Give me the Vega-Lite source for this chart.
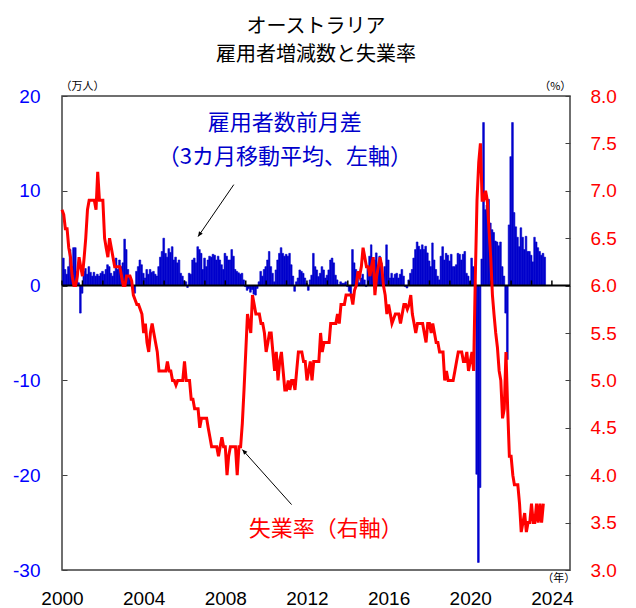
{
"$schema": "https://vega.github.io/schema/vega-lite/v6.json",
"width": 508,
"height": 474,
"autosize": {"type": "none"},
"padding": {"left": 62, "top": 96, "right": 66, "bottom": 38},
"title": {"text": ["オーストラリア", "雇用者増減数と失業率"], "fontSize": 20, "fontWeight": "normal", "font": "Noto Sans CJK JP", "color": "#000000", "lineHeight": 28, "offset": 16, "anchor": "middle"},
"config": {
  "view": {"stroke": "#404040", "strokeWidth": 1.5},
  "axis": {"labelFont": "Liberation Sans", "labelFontSize": 19, "grid": false, "domain": false, "title": null}
},
"datasets": {
"main": [
{"d":"2000-01","e":2.9,"u":6.8},{"d":"2000-02","e":1.7,"u":6.75},{"d":"2000-03","e":1.2,"u":6.6},{"d":"2000-04","e":2.0,"u":6.6},{"d":"2000-05","e":3.8,"u":6.4},{"d":"2000-06","e":2.0,"u":6.3},{"d":"2000-07","e":4.0,"u":6.1},{"d":"2000-08","e":4.0,"u":6.0},{"d":"2000-09","e":1.5,"u":6.0},{"d":"2000-10","e":0.3,"u":6.1},{"d":"2000-11","e":-2.9,"u":6.3},{"d":"2000-12","e":-0.8,"u":6.2},
{"d":"2001-01","e":1.5,"u":6.1},{"d":"2001-02","e":1.8,"u":6.3},{"d":"2001-03","e":1.2,"u":6.5},{"d":"2001-04","e":2.0,"u":6.8},{"d":"2001-05","e":1.4,"u":6.9},{"d":"2001-06","e":1.0,"u":6.9},{"d":"2001-07","e":1.4,"u":6.9},{"d":"2001-08","e":1.0,"u":6.9},{"d":"2001-09","e":1.2,"u":6.8},{"d":"2001-10","e":1.0,"u":7.2},{"d":"2001-11","e":1.3,"u":6.9},{"d":"2001-12","e":1.5,"u":6.9},
{"d":"2002-01","e":1.2,"u":6.9},{"d":"2002-02","e":1.7,"u":6.5},{"d":"2002-03","e":2.2,"u":6.4},{"d":"2002-04","e":2.0,"u":6.3},{"d":"2002-05","e":1.3,"u":6.5},{"d":"2002-06","e":1.0,"u":6.4},{"d":"2002-07","e":1.5,"u":6.3},{"d":"2002-08","e":2.9,"u":6.2},{"d":"2002-09","e":1.7,"u":6.2},{"d":"2002-10","e":2.7,"u":6.2},{"d":"2002-11","e":2.0,"u":6.2},{"d":"2002-12","e":2.4,"u":6.1},
{"d":"2003-01","e":4.9,"u":6.0},{"d":"2003-02","e":3.8,"u":6.0},{"d":"2003-03","e":1.7,"u":6.1},{"d":"2003-04","e":0.8,"u":6.1},{"d":"2003-05","e":0.5,"u":6.1},{"d":"2003-06","e":-0.3,"u":6.05},{"d":"2003-07","e":-0.8,"u":5.9},{"d":"2003-08","e":1.5,"u":5.85},{"d":"2003-09","e":2.0,"u":5.8},{"d":"2003-10","e":2.7,"u":5.8},{"d":"2003-11","e":2.2,"u":5.75},{"d":"2003-12","e":1.3,"u":5.7},
{"d":"2004-01","e":0.8,"u":5.5},{"d":"2004-02","e":1.7,"u":5.6},{"d":"2004-03","e":1.2,"u":5.4},{"d":"2004-04","e":1.7,"u":5.3},{"d":"2004-05","e":1.4,"u":5.5},{"d":"2004-06","e":1.5,"u":5.6},{"d":"2004-07","e":1.2,"u":5.5},{"d":"2004-08","e":1.0,"u":5.4},{"d":"2004-09","e":2.0,"u":5.3},{"d":"2004-10","e":3.0,"u":5.1},{"d":"2004-11","e":3.6,"u":5.1},{"d":"2004-12","e":5.0,"u":5.1},
{"d":"2005-01","e":3.4,"u":5.1},{"d":"2005-02","e":3.0,"u":5.1},{"d":"2005-03","e":3.9,"u":5.2},{"d":"2005-04","e":3.5,"u":5.1},{"d":"2005-05","e":4.1,"u":5.1},{"d":"2005-06","e":2.7,"u":5.0},{"d":"2005-07","e":3.0,"u":5.0},{"d":"2005-08","e":2.4,"u":4.95},{"d":"2005-09","e":2.7,"u":5.0},{"d":"2005-10","e":1.3,"u":5.0},{"d":"2005-11","e":1.0,"u":5.0},{"d":"2005-12","e":0.5,"u":5.0},
{"d":"2006-01","e":0.4,"u":5.2},{"d":"2006-02","e":-0.2,"u":5.0},{"d":"2006-03","e":1.3,"u":5.0},{"d":"2006-04","e":1.2,"u":5.0},{"d":"2006-05","e":2.7,"u":4.8},{"d":"2006-06","e":2.9,"u":4.8},{"d":"2006-07","e":2.4,"u":4.7},{"d":"2006-08","e":4.1,"u":4.7},{"d":"2006-09","e":3.8,"u":4.7},{"d":"2006-10","e":3.4,"u":4.5},{"d":"2006-11","e":1.7,"u":4.6},{"d":"2006-12","e":2.9,"u":4.6},
{"d":"2007-01","e":2.0,"u":4.6},{"d":"2007-02","e":2.7,"u":4.6},{"d":"2007-03","e":3.1,"u":4.5},{"d":"2007-04","e":3.0,"u":4.4},{"d":"2007-05","e":3.3,"u":4.3},{"d":"2007-06","e":3.2,"u":4.3},{"d":"2007-07","e":2.7,"u":4.3},{"d":"2007-08","e":3.1,"u":4.3},{"d":"2007-09","e":2.7,"u":4.2},{"d":"2007-10","e":2.2,"u":4.3},{"d":"2007-11","e":1.7,"u":4.4},{"d":"2007-12","e":3.4,"u":4.3},
{"d":"2008-01","e":3.1,"u":4.3},{"d":"2008-02","e":2.7,"u":4.0},{"d":"2008-03","e":2.7,"u":4.2},{"d":"2008-04","e":3.8,"u":4.3},{"d":"2008-05","e":3.1,"u":4.3},{"d":"2008-06","e":1.7,"u":4.3},{"d":"2008-07","e":1.5,"u":4.3},{"d":"2008-08","e":1.35,"u":4.0},{"d":"2008-09","e":1.2,"u":4.3},{"d":"2008-10","e":1.3,"u":4.3},{"d":"2008-11","e":0.6,"u":4.55},{"d":"2008-12","e":-0.1,"u":4.9},
{"d":"2009-01","e":-0.5,"u":5.3},{"d":"2009-02","e":-0.3,"u":5.7},{"d":"2009-03","e":-0.7,"u":5.6},{"d":"2009-04","e":-0.4,"u":5.5},{"d":"2009-05","e":-0.9,"u":5.9},{"d":"2009-06","e":-1.0,"u":5.8},{"d":"2009-07","e":-0.3,"u":5.7},{"d":"2009-08","e":0.4,"u":5.7},{"d":"2009-09","e":1.5,"u":5.7},{"d":"2009-10","e":1.0,"u":5.6},{"d":"2009-11","e":1.7,"u":5.6},{"d":"2009-12","e":2.0,"u":5.5},
{"d":"2010-01","e":2.7,"u":5.3},{"d":"2010-02","e":3.6,"u":5.4},{"d":"2010-03","e":2.0,"u":5.5},{"d":"2010-04","e":1.3,"u":5.5},{"d":"2010-05","e":0.4,"u":5.3},{"d":"2010-06","e":1.65,"u":5.1},{"d":"2010-07","e":2.7,"u":5.3},{"d":"2010-08","e":3.4,"u":5.0},{"d":"2010-09","e":4.0,"u":5.2},{"d":"2010-10","e":3.4,"u":5.3},{"d":"2010-11","e":3.1,"u":5.1},{"d":"2010-12","e":3.3,"u":4.9},
{"d":"2011-01","e":3.1,"u":4.9},{"d":"2011-02","e":3.4,"u":5.0},{"d":"2011-03","e":2.2,"u":4.9},{"d":"2011-04","e":1.0,"u":5.0},{"d":"2011-05","e":-0.6,"u":5.0},{"d":"2011-06","e":0.4,"u":4.9},{"d":"2011-07","e":0.8,"u":5.1},{"d":"2011-08","e":1.65,"u":5.3},{"d":"2011-09","e":1.5,"u":5.3},{"d":"2011-10","e":1.3,"u":5.3},{"d":"2011-11","e":0.8,"u":5.2},{"d":"2011-12","e":0.25,"u":5.2},
{"d":"2012-01","e":-0.5,"u":5.0},{"d":"2012-02","e":0.6,"u":5.1},{"d":"2012-03","e":1.1,"u":5.2},{"d":"2012-04","e":3.4,"u":5.0},{"d":"2012-05","e":2.0,"u":5.2},{"d":"2012-06","e":1.65,"u":5.2},{"d":"2012-07","e":0.95,"u":5.2},{"d":"2012-08","e":1.3,"u":5.2},{"d":"2012-09","e":2.0,"u":5.5},{"d":"2012-10","e":1.65,"u":5.3},{"d":"2012-11","e":0.8,"u":5.4},{"d":"2012-12","e":1.1,"u":5.4},
{"d":"2013-01","e":1.65,"u":5.4},{"d":"2013-02","e":2.7,"u":5.4},{"d":"2013-03","e":2.9,"u":5.6},{"d":"2013-04","e":2.4,"u":5.6},{"d":"2013-05","e":1.1,"u":5.6},{"d":"2013-06","e":0.6,"u":5.6},{"d":"2013-07","e":0.1,"u":5.7},{"d":"2013-08","e":0.4,"u":5.6},{"d":"2013-09","e":0.25,"u":5.8},{"d":"2013-10","e":0.25,"u":5.8},{"d":"2013-11","e":0.4,"u":5.8},{"d":"2013-12","e":-0.1,"u":5.9},
{"d":"2014-01","e":-0.6,"u":5.9},{"d":"2014-02","e":-1.0,"u":5.9},{"d":"2014-03","e":3.8,"u":5.9},{"d":"2014-04","e":2.4,"u":5.8},{"d":"2014-05","e":1.7,"u":5.95},{"d":"2014-06","e":0.8,"u":6.0},{"d":"2014-07","e":0.3,"u":6.15},{"d":"2014-08","e":0.8,"u":6.1},{"d":"2014-09","e":1.2,"u":6.2},{"d":"2014-10","e":0.6,"u":6.4},{"d":"2014-11","e":-0.1,"u":6.3},{"d":"2014-12","e":2.0,"u":6.2},
{"d":"2015-01","e":3.1,"u":6.2},{"d":"2015-02","e":4.3,"u":6.1},{"d":"2015-03","e":2.4,"u":6.2},{"d":"2015-04","e":2.7,"u":6.3},{"d":"2015-05","e":3.45,"u":5.9},{"d":"2015-06","e":1.7,"u":6.1},{"d":"2015-07","e":3.1,"u":6.2},{"d":"2015-08","e":2.4,"u":6.3},{"d":"2015-09","e":1.0,"u":6.2},{"d":"2015-10","e":2.0,"u":6.0},{"d":"2015-11","e":4.3,"u":5.9},{"d":"2015-12","e":2.7,"u":5.7},
{"d":"2016-01","e":0.8,"u":5.8},{"d":"2016-02","e":1.3,"u":5.7},{"d":"2016-03","e":0.8,"u":5.6},{"d":"2016-04","e":1.2,"u":5.65},{"d":"2016-05","e":1.3,"u":5.7},{"d":"2016-06","e":0.8,"u":5.7},{"d":"2016-07","e":1.2,"u":5.7},{"d":"2016-08","e":1.7,"u":5.6},{"d":"2016-09","e":1.0,"u":5.7},{"d":"2016-10","e":-0.1,"u":5.8},{"d":"2016-11","e":-0.25,"u":5.8},{"d":"2016-12","e":0.6,"u":5.75},
{"d":"2017-01","e":1.3,"u":5.8},{"d":"2017-02","e":1.7,"u":5.9},{"d":"2017-03","e":2.9,"u":5.7},{"d":"2017-04","e":3.8,"u":5.6},{"d":"2017-05","e":4.6,"u":5.5},{"d":"2017-06","e":4.15,"u":5.6},{"d":"2017-07","e":3.8,"u":5.6},{"d":"2017-08","e":4.3,"u":5.6},{"d":"2017-09","e":3.8,"u":5.6},{"d":"2017-10","e":4.15,"u":5.5},{"d":"2017-11","e":3.45,"u":5.4},{"d":"2017-12","e":2.6,"u":5.6},
{"d":"2018-01","e":2.0,"u":5.6},{"d":"2018-02","e":4.5,"u":5.5},{"d":"2018-03","e":2.7,"u":5.6},{"d":"2018-04","e":1.7,"u":5.5},{"d":"2018-05","e":1.0,"u":5.4},{"d":"2018-06","e":0.6,"u":5.4},{"d":"2018-07","e":3.1,"u":5.3},{"d":"2018-08","e":4.1,"u":5.3},{"d":"2018-09","e":2.7,"u":5.3},{"d":"2018-10","e":3.4,"u":5.0},{"d":"2018-11","e":3.2,"u":5.1},{"d":"2018-12","e":2.6,"u":5.0},
{"d":"2019-01","e":3.3,"u":5.0},{"d":"2019-02","e":2.0,"u":5.0},{"d":"2019-03","e":2.0,"u":5.0},{"d":"2019-04","e":2.2,"u":5.1},{"d":"2019-05","e":3.4,"u":5.2},{"d":"2019-06","e":3.3,"u":5.3},{"d":"2019-07","e":2.7,"u":5.3},{"d":"2019-08","e":3.3,"u":5.3},{"d":"2019-09","e":3.6,"u":5.2},{"d":"2019-10","e":1.3,"u":5.2},{"d":"2019-11","e":1.0,"u":5.3},{"d":"2019-12","e":0.45,"u":5.1},
{"d":"2020-01","e":2.9,"u":5.2},{"d":"2020-02","e":2.0,"u":5.3},{"d":"2020-03","e":0.3,"u":5.1},{"d":"2020-04","e":-19.9,"u":6.1},{"d":"2020-05","e":-29.2,"u":6.9},{"d":"2020-06","e":-21.3,"u":7.3},{"d":"2020-07","e":2.8,"u":7.5},{"d":"2020-08","e":17.2,"u":6.9},{"d":"2020-09","e":8.0,"u":6.9},{"d":"2020-10","e":8.5,"u":7.0},{"d":"2020-11","e":9.1,"u":6.9},{"d":"2020-12","e":6.6,"u":6.6},
{"d":"2021-01","e":5.9,"u":6.3},{"d":"2021-02","e":5.6,"u":5.9},{"d":"2021-03","e":4.7,"u":5.7},{"d":"2021-04","e":4.6,"u":5.5},{"d":"2021-05","e":4.2,"u":5.35},{"d":"2021-06","e":4.6,"u":5.1},{"d":"2021-07","e":2.0,"u":5.0},{"d":"2021-08","e":1.0,"u":4.6},{"d":"2021-09","e":-2.9,"u":4.7},{"d":"2021-10","e":-7.8,"u":5.3},{"d":"2021-11","e":6.4,"u":4.7},{"d":"2021-12","e":13.6,"u":4.2},
{"d":"2022-01","e":17.2,"u":4.2},{"d":"2022-02","e":7.7,"u":4.0},{"d":"2022-03","e":6.2,"u":3.9},{"d":"2022-04","e":5.1,"u":3.9},{"d":"2022-05","e":4.1,"u":3.9},{"d":"2022-06","e":6.1,"u":3.7},{"d":"2022-07","e":5.1,"u":3.4},{"d":"2022-08","e":3.8,"u":3.5},{"d":"2022-09","e":5.2,"u":3.6},{"d":"2022-10","e":3.6,"u":3.4},{"d":"2022-11","e":3.6,"u":3.5},{"d":"2022-12","e":3.2,"u":3.5},
{"d":"2023-01","e":2.5,"u":3.7},{"d":"2023-02","e":5.1,"u":3.5},{"d":"2023-03","e":4.6,"u":3.5},{"d":"2023-04","e":4.0,"u":3.7},{"d":"2023-05","e":3.6,"u":3.5},{"d":"2023-06","e":3.2,"u":3.7},{"d":"2023-07","e":3.4,"u":3.5},{"d":"2023-08","e":3.0,"u":3.7}
],
"years": [
{"d":"2000-01"},{"d":"2001-01"},{"d":"2002-01"},{"d":"2003-01"},{"d":"2004-01"},{"d":"2005-01"},{"d":"2006-01"},{"d":"2007-01"},{"d":"2008-01"},{"d":"2009-01"},{"d":"2010-01"},{"d":"2011-01"},{"d":"2012-01"},{"d":"2013-01"},{"d":"2014-01"},{"d":"2015-01"},{"d":"2016-01"},{"d":"2017-01"},{"d":"2018-01"},{"d":"2019-01"},{"d":"2020-01"},{"d":"2021-01"},{"d":"2022-01"},{"d":"2023-01"},{"d":"2024-01"}
],
"arrows": [
{"d":"2008-06","v":10.65,"d2":"2006-09","v2":5.17},
{"d":"2011-04","v":-23.1,"d2":"2008-11","v2":-17.3}
]
},
"encoding": {
  "x": {"field": "d", "timeUnit": "utcyearmonth", "type": "temporal",
        "scale": {"domain": [{"year": 2000, "month": 1, "date": 1, "utc": true}, {"year": 2024, "month": 11, "date": 20, "utc": true}], "nice": false},
        "axis": {"orient": "bottom", "values": [{"year": 2000, "utc": true}, {"year": 2004, "utc": true}, {"year": 2008, "utc": true}, {"year": 2012, "utc": true}, {"year": 2016, "utc": true}, {"year": 2020, "utc": true}, {"year": 2024, "utc": true}],
                 "labelExpr": "utcFormat(datum.value, '%Y')", "labelFlush": false, "labelOverlap": false, "ticks": false, "labelPadding": 19, "labelColor": "#000000"}}
},
"layer": [
{
"layer": [
{
"data": {"name": "main"},
"mark": {"type": "bar", "color": "#0000CC", "stroke": "#0000CC", "strokeWidth": 0.6, "binSpacing": 0},
"encoding": {
  "y": {"field": "e", "type": "quantitative", "scale": {"domain": [-30, 20], "nice": false},
        "axis": {"orient": "left", "values": [-30, -20, -10, 0, 10, 20], "labelExpr": "toString(datum.value)", "labelColor": "#0000FF", "tickSize": -5, "tickColor": "#404040", "labelPadding": 27}}
}
},
{
"data": {"values": [{"d": "2000-01", "d2": "2024-12"}]},
"mark": {"type": "rule", "color": "#000000", "strokeWidth": 2, "clip": true},
"encoding": {
  "x2": {"field": "d2", "timeUnit": "utcyearmonth"},
  "y": {"datum": 0, "type": "quantitative", "scale": {"domain": [-30, 20], "nice": false}}
}
},
{
"data": {"name": "years"},
"mark": {"type": "rule", "color": "#000000", "strokeWidth": 1.5},
"encoding": {
  "y": {"datum": 0, "type": "quantitative", "scale": {"domain": [-30, 20], "nice": false}},
  "y2": {"datum": 0.55}
}
},
{
"data": {"name": "arrows"},
"mark": {"type": "rule", "color": "#000000", "strokeWidth": 1},
"encoding": {
  "x2": {"field": "d2", "timeUnit": "utcyearmonth"},
  "y": {"field": "v", "type": "quantitative", "scale": {"domain": [-30, 20], "nice": false}},
  "y2": {"field": "v2"}
}
},
{
"data": {"values": [{"d": "2006-09", "v": 5.17}]},
"mark": {"type": "point", "shape": "M0,0L-0.45,1L0.45,1Z", "filled": true, "color": "#000000", "opacity": 1, "size": 100, "angle": 213.9},
"encoding": {
  "y": {"field": "v", "type": "quantitative", "scale": {"domain": [-30, 20], "nice": false}}
}
},
{
"data": {"values": [{"d": "2008-11", "v": -17.3}]},
"mark": {"type": "point", "shape": "M0,0L-0.45,1L0.45,1Z", "filled": true, "color": "#000000", "opacity": 1, "size": 100, "angle": 317.7},
"encoding": {
  "y": {"field": "v", "type": "quantitative", "scale": {"domain": [-30, 20], "nice": false}}
}
},
{
"data": {"values": [{"d": "2010-12", "v": 17.1, "t": "雇用者数前月差"}, {"d": "2010-12", "v": 13.6, "t": "（3カ月移動平均、左軸）"}]},
"mark": {"type": "text", "font": "Noto Sans CJK JP", "fontSize": 22, "color": "#0000CC", "align": "center", "baseline": "middle"},
"encoding": {
  "y": {"field": "v", "type": "quantitative", "scale": {"domain": [-30, 20], "nice": false}},
  "text": {"field": "t"}
}
},
{
"data": {"values": [{"d": "2012-12", "v": -25.7, "t": "失業率（右軸）"}]},
"mark": {"type": "text", "font": "Noto Sans CJK JP", "fontSize": 22, "color": "#FF0000", "align": "center", "baseline": "middle"},
"encoding": {
  "y": {"field": "v", "type": "quantitative", "scale": {"domain": [-30, 20], "nice": false}},
  "text": {"field": "t"}
}
},
{
"data": {"values": [{"d": "2001-01", "v": 20.9, "t": "（万人）"}, {"d": "2024-03", "v": 20.9, "t": "（%）"}, {"d": "2024-05", "v": -31.0, "t": "（年）"}]},
"mark": {"type": "text", "font": "Noto Sans CJK JP", "fontSize": 11, "color": "#000000", "align": "center", "baseline": "middle"},
"encoding": {
  "y": {"field": "v", "type": "quantitative", "scale": {"domain": [-30, 20], "nice": false}},
  "text": {"field": "t"}
}
}
]
},
{
"data": {"name": "main"},
"mark": {"type": "line", "color": "#FF0000", "strokeWidth": 3},
"encoding": {
  "y": {"field": "u", "type": "quantitative", "scale": {"domain": [3, 8], "nice": false},
        "axis": {"orient": "right", "values": [3, 3.5, 4, 4.5, 5, 5.5, 6, 6.5, 7, 7.5, 8], "format": ".1f", "labelColor": "#FF0000", "tickSize": -5, "tickColor": "#404040", "labelPadding": 25}}
}
}
],
"resolve": {"scale": {"y": "independent"}}
}
